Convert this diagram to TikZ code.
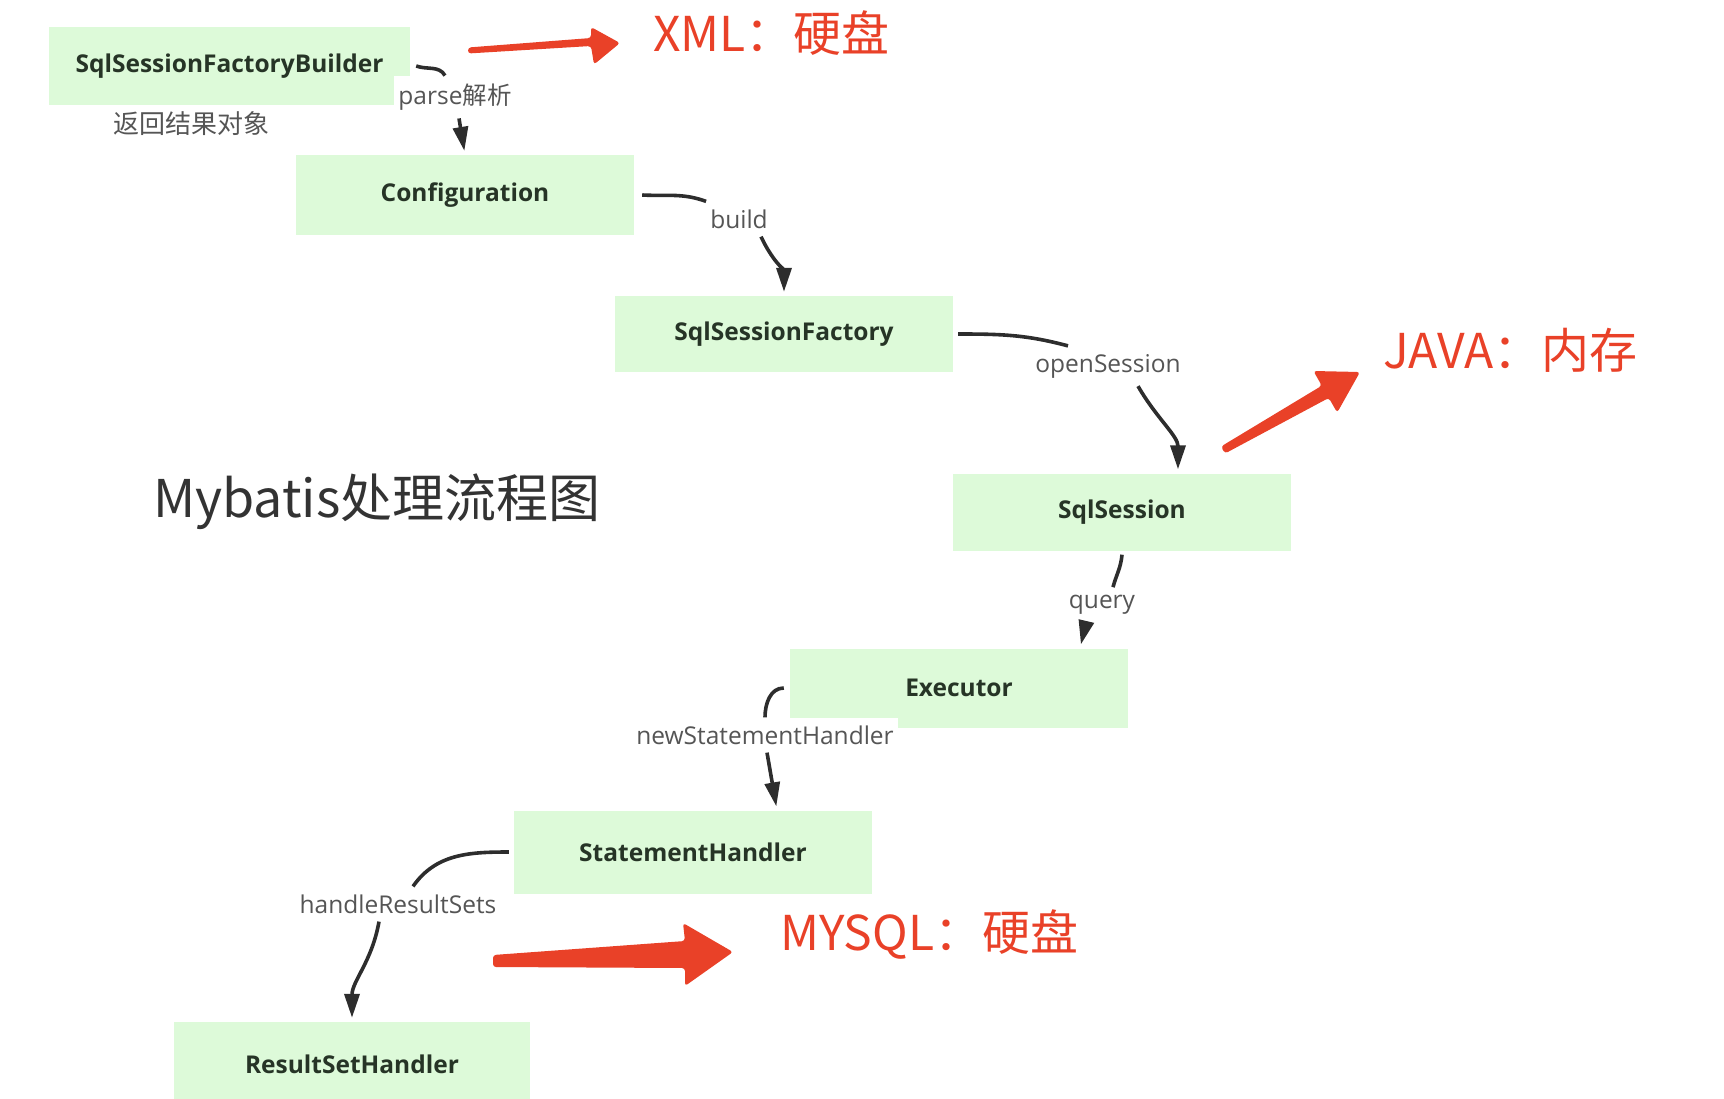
\documentclass[tikz,border=0pt]{standalone}
\usepackage{fontspec}
\setmainfont{Open Sans}
\newfontfamily\cjk{Noto Sans CJK SC}
\usetikzlibrary{arrows.meta}
\definecolor{boxgreen}{RGB}{221,250,217}
\definecolor{boxtext}{RGB}{38,52,38}
\definecolor{labelgray}{RGB}{85,85,85}
\definecolor{linegray}{RGB}{45,45,45}
\definecolor{markred}{RGB}{233,65,40}
\newcommand{\fs}[1]{\fontsize{#1}{#1}\selectfont}

\begin{document}
\begin{tikzpicture}[x=1pt,y=1pt,
  box/.style={fill=boxgreen,text=boxtext,minimum width=338pt,minimum height=78pt,inner sep=0pt,font=\fs{24.5}\bfseries},
  elabel/.style={fill=white,text=labelgray,inner xsep=4pt,inner ysep=8pt,font=\fs{24.5}},
  redtext/.style={text=markred,inner sep=0pt,font=\fs{48}\cjk},
  conn/.style={draw=linegray,line width=3.6pt},
  flow/.style={conn,-{Triangle[length=24pt,width=15pt]},shorten >=4pt}]
  \useasboundingbox (0,0) rectangle (1724,-1098);
  \node[box,minimum width=361pt] (sfb) at (229.5,-66) {SqlSessionFactoryBuilder};
  \node[box,minimum height=80pt] (cfg) at (465,-195) {Configuration};
  \node[box,minimum height=76pt] (sf) at (784,-334) {SqlSessionFactory};
  \node[box,minimum height=77pt] (ss) at (1122,-512) {SqlSession};
  \node[box,minimum height=79pt] (ex) at (959,-688) {Executor};
  \node[box,minimum width=358pt,minimum height=83pt] (sh) at (693,-852) {StatementHandler};
  \node[box,minimum width=356pt,minimum height=84pt] (rsh) at (352,-1064) {ResultSetHandler};

  \node[elabel] (lparse) at (455,-97) {parse{\cjk 解析}};
  \node[elabel] (lbuild) at (739,-219) {build};
  \node[elabel] (lopen) at (1108,-366) {openSession};
  \node[elabel] (lquery) at (1102,-605) {query};
  \node[elabel] (lnew) at (765,-735) {newStatementHandler};
  \node[elabel] (lhandle) at (398,-904) {handleResultSets};

  \draw[conn] ([xshift=6pt]sfb.east) to[out=-20,in=120] ([xshift=-10pt]lparse.north);
  \draw[flow] ([xshift=4pt]lparse.south) -- (cfg.north);
  \draw[conn] ([xshift=8pt]cfg.east) to[out=-3,in=160] (lbuild.north west);
  \draw[flow] ([xshift=22pt]lbuild.south) to[out=-65,in=90] (sf.north);
  \draw[conn] ([xshift=5pt]sf.east) to[out=0,in=165] ([xshift=-40pt]lopen.north);
  \draw[flow] ([xshift=30pt]lopen.south) to[out=-60,in=90] ([xshift=56pt]ss.north);
  \draw[conn] ([yshift=-4pt]ss.south) to[out=-95,in=75] ([xshift=11pt]lquery.north);
  \draw[flow] ([xshift=-16pt]lquery.south) -- ([xshift=121pt]ex.north);
  \draw[conn] ([xshift=-6pt]ex.west) to[out=180,in=90] (lnew.north);
  \draw[flow] ([xshift=2pt]lnew.south) -- ([xshift=84pt]sh.north);
  \draw[conn] ([xshift=-5pt]sh.west) to[out=180,in=55] ([xshift=15pt]lhandle.north);
  \draw[flow] ([xshift=-19pt]lhandle.south) to[out=-100,in=90] (rsh.north);

  \node[text=labelgray,font=\fs{26}\cjk] (ret) at (191,-124) {返回结果对象};
  \node[text=black!80,inner sep=0pt,font=\fs{52}\cjk,anchor=base west] (title) at (153,-517) {Mybatis处理流程图};

  \fill[markred,rounded corners=3pt] (468,-47.5) -- (591,-38) -- (591,-27) -- (620,-43) -- (594,-64.5) -- (591,-46) -- (468,-53.5) -- cycle;
  \fill[markred,rounded corners=3pt] (1221,-446.5) -- (1321.8,-385.7) -- (1313.4,-371) -- (1360,-372) -- (1337.2,-412.6) -- (1328.8,-397.9) -- (1225,-453.5) -- cycle;
  \fill[markred,rounded corners=3pt] (493,-955) -- (685,-941) -- (683,-923) -- (733,-952) -- (685,-986) -- (685,-968) -- (493,-967) -- cycle;
  \node[redtext,anchor=base west] (xml) at (653,-51) {XML：硬盘};
  \node[redtext,anchor=base west] (java) at (1383,-368) {JAVA：内存};
  \node[redtext,anchor=base west] (mysql) at (780,-950) {MYSQL：硬盘};
\end{tikzpicture}
\end{document}
